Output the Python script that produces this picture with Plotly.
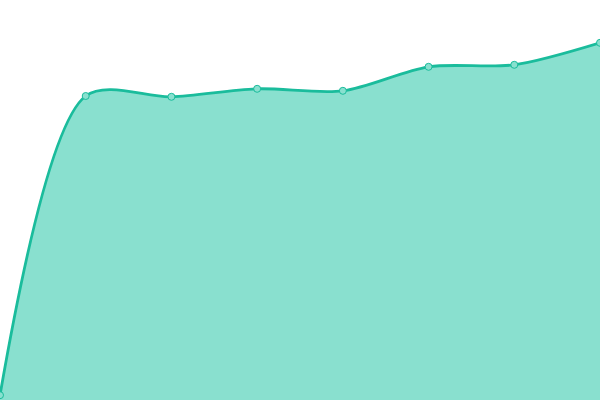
import plotly.graph_objects as go

# values (y axis 0-100, no visible axes)
x_vals = [0, 1, 2, 3, 4, 5, 6, 7]
y_vals = [1.2, 76, 75.8, 77.8, 77.3, 83.3, 83.8, 89.3]

line_color = "#1abc9c"
fill_color = "#89e0cf"

fig = go.Figure()
fig.add_trace(go.Scatter(
    x=x_vals, y=y_vals,
    mode="lines+markers",
    line=dict(color=line_color, width=2.8, shape="spline", smoothing=0.85),
    fill="tozeroy",
    fillcolor=fill_color,
    marker=dict(size=7, color=fill_color, line=dict(color=line_color, width=1)),
    hoverinfo="skip",
))

fig.update_layout(
    width=600, height=400,
    margin=dict(l=0, r=0, t=0, b=0),
    paper_bgcolor="white", plot_bgcolor="white",
    showlegend=False,
    xaxis=dict(range=[0, 7], visible=False),
    yaxis=dict(range=[0, 100], visible=False),
)

# drop the browser's default body margin so the chart sits at 0,0
fig.write_html("out.html", config={"displayModeBar": False},
               post_script="document.body.style.margin='0';")
